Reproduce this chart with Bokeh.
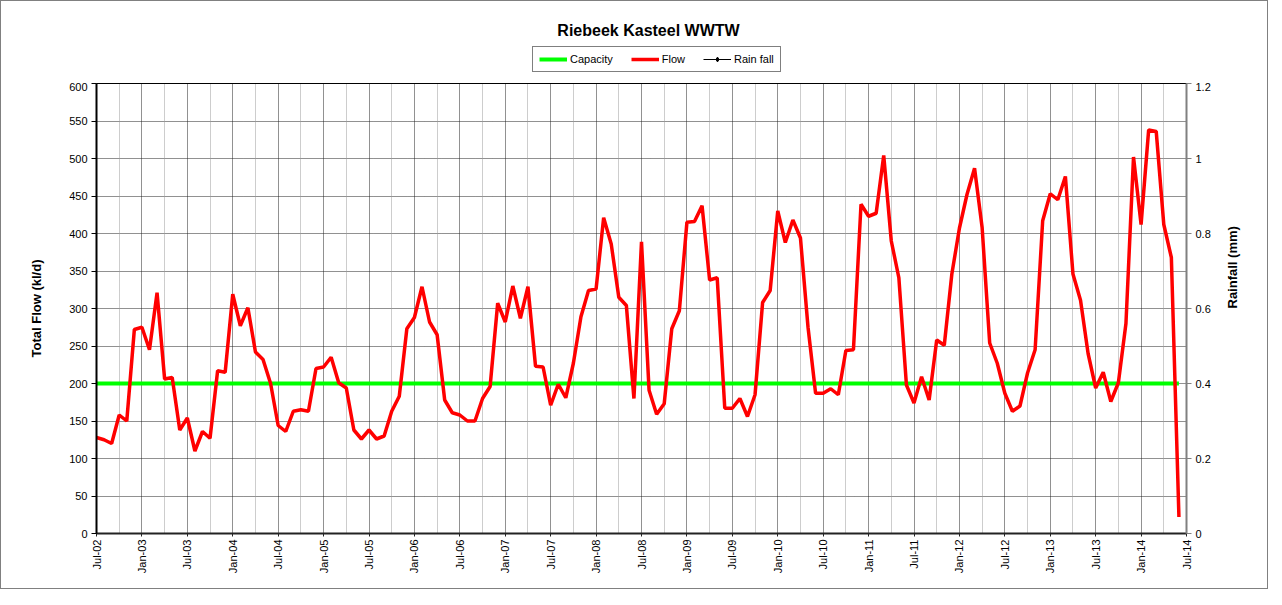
import math
from bokeh.plotting import figure
from bokeh.layouts import column
from bokeh.models import (ColumnDataSource, Range1d, LinearAxis, FixedTicker,
                          Grid, Legend, LegendItem, Label)
from bokeh.embed import file_html
from bokeh.resources import INLINE

# ---------------- data ----------------
# monthly flow, Jul-02 ... Jun-14 (kl/d)
flow = [128, 125, 120, 158, 150, 272, 275, 245, 321, 206, 208, 138,
        154, 110, 136, 127, 217, 215, 319, 277, 301, 242, 232, 200,
        144, 136, 163, 165, 163, 220, 222, 235, 201, 194, 138, 126,
        138, 126, 130, 163, 183, 273, 288, 329, 282, 265, 178, 161,
        158, 150, 150, 180, 196, 307, 282, 330, 287, 329, 223, 222,
        171, 199, 181, 227, 289, 324, 326, 421, 386, 315, 304, 180,
        389, 191, 159, 173, 273, 297, 415, 416, 437, 338, 341, 167,
        167, 180, 156, 185, 308, 324, 430, 388, 418, 394, 275, 187,
        187, 193, 185, 244, 245, 439, 423, 427, 504, 390, 341, 198,
        174, 209, 178, 258, 251, 346, 407, 452, 487, 408, 254, 227,
        187, 163, 170, 214, 245, 417, 453, 445, 476, 346, 311, 240,
        194, 215, 176, 201, 280, 502, 412, 538, 536, 412, 368, 22]
capacity = [200] * len(flow)
rainfall = []          # no rainfall values are plotted in the chart
month_index = list(range(len(flow)))

x_tick_labels = ["Jul-02", "Jan-03", "Jul-03", "Jan-04", "Jul-04", "Jan-05",
                 "Jul-05", "Jan-06", "Jul-06", "Jan-07", "Jul-07", "Jan-08",
                 "Jul-08", "Jan-09", "Jul-09", "Jan-10", "Jul-10", "Jan-11",
                 "Jul-11", "Jan-12", "Jul-12", "Jan-13", "Jul-13", "Jan-14",
                 "Jul-14"]
flow_ticks = [0, 50, 100, 150, 200, 250, 300, 350, 400, 450, 500, 550, 600]
rain_ticks = [0, 0.2, 0.4, 0.6, 0.8, 1, 1.2]
rain_tick_labels = ["0", "0.2", "0.4", "0.6", "0.8", "1", "1.2"]
series_names = ["Capacity", "Flow", "Rain fall"]

FONT = "Liberation Sans"
W = 1266

x_major = [i * 6 for i in range(len(x_tick_labels))]
x_minor = [t + 3 for t in x_major[:-1]]

# ---------------- header: title + legend ----------------
HEAD_H = 81
h = figure(width=W, height=HEAD_H, output_backend="svg", toolbar_location=None,
           title=None, x_range=Range1d(0, 1), y_range=Range1d(0, 1),
           x_axis_location=None, y_axis_location=None, min_border=0)
h.outline_line_color = None
h.background_fill_color = "white"
h.border_fill_color = "white"
h.xgrid.visible = False
h.ygrid.visible = False

# legend swatches (NaN rows: they only provide the legend glyph styles)
proxy = ColumnDataSource(dict(x=[math.nan], y=[math.nan]))
cap_h = h.line("x", "y", source=proxy, line_color="#00ff00", line_width=4)
flow_h = h.line("x", "y", source=proxy, line_color="#ff0000", line_width=3.5)
rain_hl = h.line("x", "y", source=proxy, line_color="black", line_width=1)
rain_hm = h.scatter("x", "y", source=proxy, marker="diamond", size=8,
                    fill_color="black", line_color="black")

legend = Legend(items=[LegendItem(label=series_names[0], renderers=[cap_h]),
                       LegendItem(label=series_names[1], renderers=[flow_h]),
                       LegendItem(label=series_names[2], renderers=[rain_hl, rain_hm])],
                orientation="horizontal", location=(436, 10),
                border_line_color="black", border_line_width=1,
                background_fill_color="white", background_fill_alpha=1,
                label_text_font=FONT, label_text_font_size="11px",
                label_text_color="black",
                glyph_width=28, glyph_height=12, label_height=12,
                label_standoff=3, spacing=18, padding=6, margin=0)
h.add_layout(legend)

h.add_layout(Label(x=552, y=HEAD_H - 29, x_units="screen", y_units="screen",
                   text="Riebeek Kasteel WWTW", text_align="center",
                   text_baseline="middle", text_font=FONT, text_font_size="16px",
                   text_font_style="bold", text_color="black"))

# ---------------- main plot ----------------
p = figure(width=W, height=587 - HEAD_H, output_backend="svg", toolbar_location=None,
           title=None, x_range=Range1d(0, 144), y_range=Range1d(0, 600),
           min_border_left=95, min_border_right=81, min_border_top=1,
           min_border_bottom=55)
p.extra_y_ranges = {"rain": Range1d(0, 1.2)}
p.background_fill_color = "white"
p.border_fill_color = "white"
p.outline_line_color = "black"
p.outline_line_width = 1

# grids
p.xgrid.visible = False
p.ygrid.ticker = FixedTicker(ticks=flow_ticks)
p.ygrid.grid_line_color = "#222222"
p.ygrid.grid_line_dash = "1 1"
p.ygrid.grid_line_width = 1
p.add_layout(Grid(dimension=0, ticker=FixedTicker(ticks=x_minor),
                  grid_line_color="#9a9a9a", grid_line_dash="1 1", grid_line_width=1))
p.add_layout(Grid(dimension=0, ticker=FixedTicker(ticks=x_major),
                  grid_line_color="#222222", grid_line_dash="1 1", grid_line_width=1))

# axes
xa = p.xaxis[0]
xa.ticker = FixedTicker(ticks=x_major)
xa.major_label_overrides = {t: l for t, l in zip(x_major, x_tick_labels)}
xa.major_label_orientation = math.pi / 2
xa.major_label_text_font = FONT
xa.major_label_text_font_size = "11px"
xa.major_label_text_color = "black"
xa.axis_line_color = "#222222"
xa.axis_line_width = 2
xa.major_tick_out = 3
xa.major_tick_in = 0
xa.major_tick_line_color = "#222222"
xa.minor_tick_line_color = None
xa.major_label_standoff = 3

ya = p.yaxis[0]
ya.ticker = FixedTicker(ticks=flow_ticks)
ya.axis_label = "Total Flow (kl/d)"
ya.axis_label_text_font = FONT
ya.axis_label_text_font_size = "13px"
ya.axis_label_text_font_style = "bold"
ya.axis_label_text_color = "black"
ya.axis_label_standoff = 22
ya.major_label_text_font = FONT
ya.major_label_text_font_size = "11px"
ya.major_label_text_color = "black"
ya.axis_line_color = "black"
ya.axis_line_width = 2
ya.major_tick_out = 5
ya.major_tick_in = 0
ya.minor_tick_line_color = None
ya.major_label_standoff = 4

ra = LinearAxis(y_range_name="rain", ticker=FixedTicker(ticks=rain_ticks))
ra.major_label_overrides = {t: l for t, l in zip(rain_ticks, rain_tick_labels)}
ra.axis_label = "Rainfall (mm)"
ra.axis_label_orientation = math.pi / 2
ra.axis_label_text_font = FONT
ra.axis_label_text_font_size = "13px"
ra.axis_label_text_font_style = "bold"
ra.axis_label_text_color = "black"
ra.axis_label_standoff = 19
ra.major_label_text_font = FONT
ra.major_label_text_font_size = "11px"
ra.major_label_text_color = "black"
ra.axis_line_color = "#808080"
ra.axis_line_width = 2
ra.major_tick_out = 5
ra.major_tick_in = 0
ra.major_tick_line_color = "#808080"
ra.minor_tick_line_color = None
ra.major_label_standoff = 4
p.add_layout(ra, "right")

# series
src = ColumnDataSource(dict(x=month_index, flow=flow, cap=capacity))
rain_src = ColumnDataSource(dict(x=list(range(len(rainfall))), rain=rainfall))
p.line("x", "cap", source=src, line_color="#00ff00", line_width=4)
p.line("x", "flow", source=src, line_color="#ff0000", line_width=3.5)
p.line("x", "rain", source=rain_src, y_range_name="rain",
       line_color="black", line_width=1)
p.scatter("x", "rain", source=rain_src, y_range_name="rain",
          marker="diamond", size=8, fill_color="black", line_color="black")

layout = column(h, p, spacing=0)
layout.styles = {"border": "1px solid #808080"}

open("out.html", "w").write(file_html(layout, INLINE))
